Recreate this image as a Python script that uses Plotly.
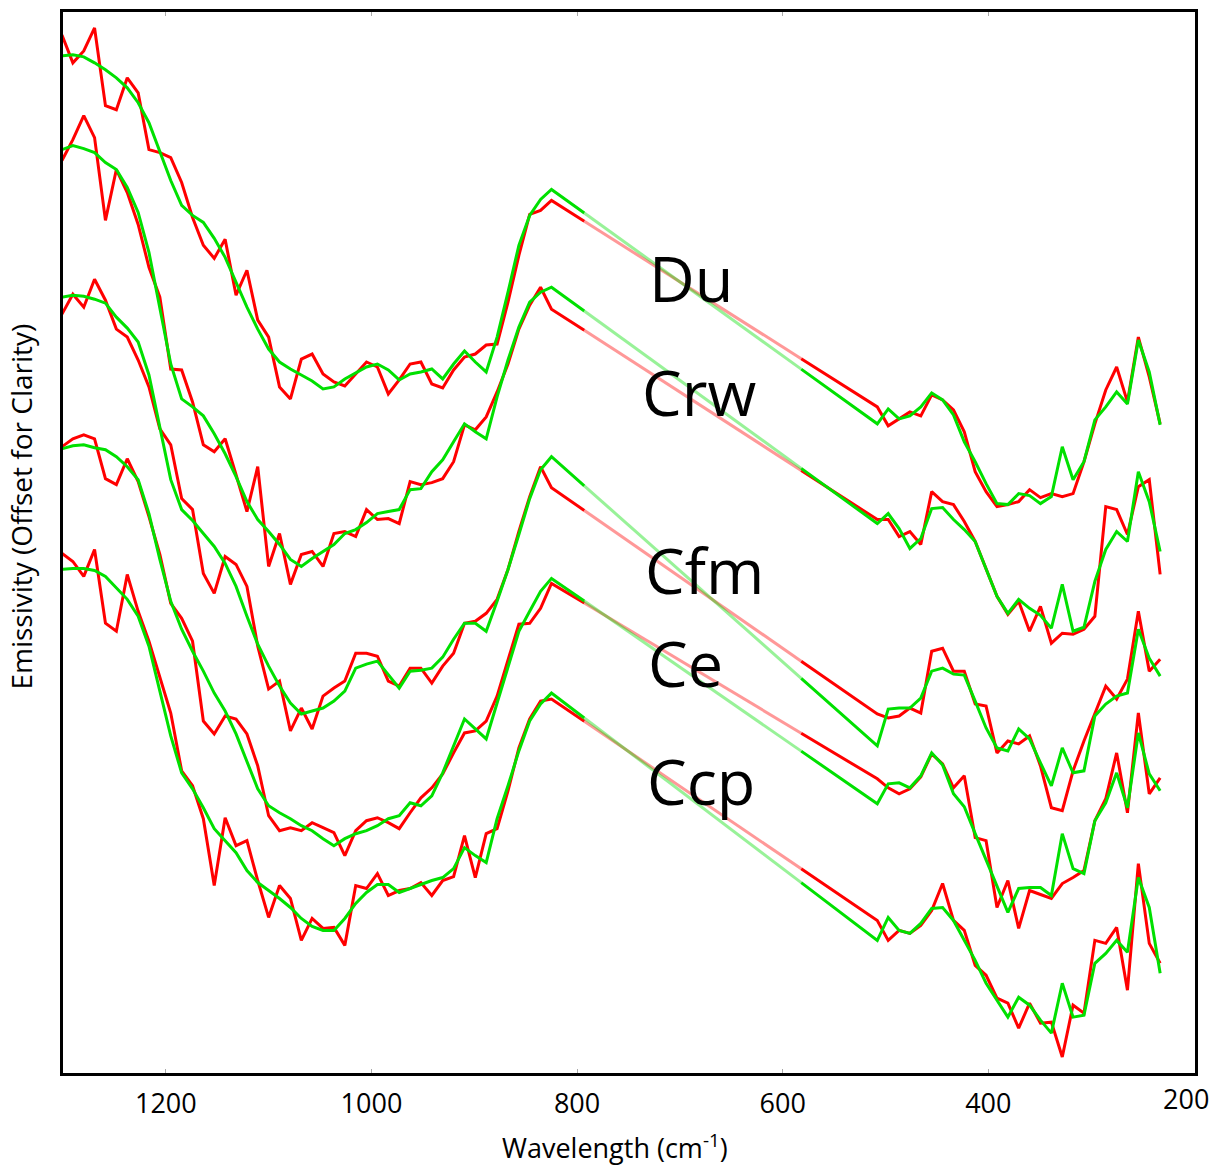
import numpy as np
import plotly.graph_objects as go

# Wavenumber channels (cm-1); the 825-508 cm-1 CO2 band is excluded from the data
WN_LEFT = [1301.0, 1290.4, 1279.8, 1269.3, 1258.7, 1248.1, 1237.5, 1226.9, 1216.4, 1205.8,
           1195.2, 1184.6, 1174.0, 1163.5, 1152.9, 1142.3, 1131.7, 1121.1, 1110.6, 1100.0,
           1089.4, 1078.8, 1068.2, 1057.7, 1047.1, 1036.5, 1025.9, 1015.3, 1004.8, 994.2,
           983.6, 973.0, 962.4, 951.9, 941.3, 930.7, 920.1, 909.5, 899.0, 888.4,
           877.8, 867.2, 856.6, 846.1, 835.5, 824.9]
WN_RIGHT = [508.0, 497.4, 486.8, 476.3, 465.7, 455.1, 444.5, 433.9, 423.4, 412.8,
            402.2, 391.6, 381.0, 370.5, 359.9, 349.3, 338.7, 328.1, 317.6, 307.0,
            296.4, 285.8, 275.2, 264.7, 254.1, 243.5, 232.9]

# Emissivity, offset for clarity (arbitrary units x1000)
DU_RED_L = [1068, 1040, 1052, 1075, 997, 993, 1025, 1010, 953, 950, 945, 920, 885, 857, 844, 863,
            807, 832, 782, 765, 715, 703, 743, 748, 728, 720, 716, 728, 740, 735, 708, 722, 738,
            740, 718, 714, 732, 745, 748, 757, 758, 800, 847, 888, 892, 902]
DU_RED_R = [695, 676, 683, 690, 686, 707, 702, 692, 670, 630, 610, 595, 597, 600, 612, 604, 608,
            605, 608, 640, 678, 712, 735, 700, 765, 725, 678]
DU_GRN_L = [1047, 1048, 1046, 1040, 1033, 1025, 1015, 1000, 980, 950, 922, 897, 887, 880, 864,
            845, 820, 795, 773, 753, 740, 733, 727, 721, 713, 715, 723, 729, 735, 738, 732, 722,
            728, 730, 733, 723, 738, 751, 740, 730, 765, 810, 857, 887, 903, 913]
DU_GRN_R = [678, 693, 683, 686, 695, 709, 702, 687, 660, 640, 618, 598, 597, 608, 606, 598, 605,
            655, 622, 640, 682, 695, 710, 698, 762, 730, 677]

CRW_RED_L = [942, 963, 987, 965, 882, 933, 910, 878, 835, 805, 733, 732, 700, 657, 650, 663, 627,
             590, 635, 535, 568, 517, 547, 550, 535, 568, 570, 565, 592, 582, 583, 578, 620, 617,
             619, 623, 640, 677, 672, 685, 710, 738, 773, 797, 815, 793]
CRW_RED_R = [582, 582, 565, 570, 557, 610, 600, 597, 580, 560, 533, 505, 487, 500, 470, 495, 458,
             468, 467, 472, 485, 595, 592, 567, 615, 622, 527]
CRW_GRN_L = [953, 957, 954, 950, 940, 933, 915, 890, 850, 795, 738, 703, 695, 686, 668, 648, 625,
             600, 582, 570, 557, 542, 535, 543, 550, 557, 568, 572, 579, 588, 590, 592, 612, 613,
             630, 642, 660, 678, 670, 663, 705, 742, 775, 800, 810, 815]
CRW_GRN_R = [578, 588, 573, 553, 563, 593, 594, 582, 572, 560, 533, 505, 488, 502, 493, 486, 473,
             517, 470, 474, 520, 552, 570, 560, 630, 600, 550]

CFM_RED_L = [788, 808, 795, 823, 802, 773, 765, 742, 715, 673, 657, 603, 592, 528, 508, 545, 537,
             515, 455, 412, 420, 370, 393, 372, 405, 413, 420, 448, 448, 445, 420, 415, 433, 433,
             418, 435, 448, 478, 480, 488, 502, 532, 570, 605, 635, 614]
CFM_RED_R = [387, 383, 385, 393, 388, 450, 453, 430, 430, 397, 395, 348, 360, 357, 365, 335, 293,
             290, 330, 360, 388, 415, 402, 422, 490, 430, 442]
CFM_GRN_L = [805, 807, 806, 803, 799, 785, 774, 760, 727, 673, 622, 592, 581, 568, 555, 538, 515,
             485, 457, 435, 415, 398, 387, 390, 393, 400, 410, 433, 437, 440, 426, 413, 430, 431,
             433, 444, 462, 478, 478, 470, 500, 532, 567, 603, 632, 645]
CFM_GRN_R = [355, 392, 393, 393, 403, 430, 433, 427, 426, 400, 373, 353, 350, 372, 362, 338, 315,
             353, 328, 330, 385, 397, 405, 408, 472, 443, 425]

CE_RED_L = [655, 663, 667, 663, 623, 617, 643, 620, 585, 547, 498, 483, 460, 380, 367, 385, 382,
            367, 335, 285, 270, 273, 270, 278, 273, 268, 245, 270, 280, 283, 278, 272, 288, 303,
            313, 327, 348, 368, 370, 380, 405, 440, 477, 478, 493, 518]
CE_RED_R = [322, 313, 307, 312, 324, 347, 337, 313, 325, 263, 260, 193, 220, 172, 210, 206, 202,
            217, 223, 230, 280, 302, 348, 288, 388, 307, 323]
CE_GRN_L = [653, 656, 657, 654, 652, 645, 635, 622, 588, 542, 500, 472, 450, 430, 408, 390, 367,
            340, 312, 295, 288, 282, 275, 270, 262, 255, 262, 267, 270, 275, 282, 285, 298, 295,
            305, 328, 355, 382, 372, 362, 398, 435, 470, 490, 510, 523]
CE_GRN_R = [297, 317, 318, 313, 325, 348, 336, 307, 294, 267, 240, 213, 188, 212, 213, 213, 205,
            267, 232, 227, 280, 298, 328, 293, 368, 327, 310]

CCP_RED_L = [548, 540, 525, 552, 478, 470, 527, 490, 460, 425, 388, 330, 315, 282, 215, 283, 255,
             260, 220, 183, 215, 202, 160, 182, 172, 173, 155, 215, 212, 227, 205, 210, 212, 218,
             205, 220, 224, 265, 223, 267, 272, 310, 353, 382, 400, 402]
CCP_RED_R = [180, 160, 170, 167, 175, 190, 217, 180, 170, 135, 125, 102, 97, 72, 97, 77, 78, 43,
             95, 87, 160, 157, 173, 110, 237, 157, 137]
CCP_GRN_L = [532, 533, 533, 531, 525, 513, 502, 485, 455, 410, 365, 328, 312, 293, 272, 260, 248,
             230, 218, 210, 202, 193, 182, 174, 170, 170, 182, 197, 208, 216, 216, 208, 212, 216,
             220, 223, 232, 253, 245, 238, 282, 315, 350, 380, 397, 408]
CCP_GRN_R = [160, 183, 170, 167, 177, 192, 193, 180, 160, 140, 117, 100, 83, 103, 95, 80, 67, 117,
             83, 85, 137, 147, 160, 148, 223, 193, 127]

SAMPLES = ["Du", "Crw", "Cfm", "Ce", "Ccp"]
RED = {"Du": (DU_RED_L, DU_RED_R), "Crw": (CRW_RED_L, CRW_RED_R), "Cfm": (CFM_RED_L, CFM_RED_R),
       "Ce": (CE_RED_L, CE_RED_R), "Ccp": (CCP_RED_L, CCP_RED_R)}
GRN = {"Du": (DU_GRN_L, DU_GRN_R), "Crw": (CRW_GRN_L, CRW_GRN_R), "Cfm": (CFM_GRN_L, CFM_GRN_R),
       "Ce": (CE_GRN_L, CE_GRN_R), "Ccp": (CCP_GRN_L, CCP_GRN_R)}
# label anchor positions (wavenumber, offset emissivity)
LABEL_POS = {"Du": (732, 825), "Crw": (739, 710), "Cfm": (736, 532), "Ce": (733, 439), "Ccp": (734, 320)}

X_TICKS = [1200, 1000, 800, 600, 400]
LAST_TICK = 200
FADE_HI, FADE_LO = 793.0, 582.0   # bridged (no-data) segment drawn faded

RED_C = "#ff0000"
GRN_C = "#00e000"

fig = go.Figure()


def add_series(left, right, color):
    wn = np.array(WN_LEFT + WN_RIGHT)
    y = np.array(left + right, dtype=float)
    y_hi = np.interp(FADE_HI, wn[::-1], y[::-1])
    y_lo = np.interp(FADE_LO, wn[::-1], y[::-1])
    m1 = wn > FADE_HI
    m3 = wn < FADE_LO
    x1 = list(wn[m1]) + [FADE_HI]
    y1 = list(y[m1]) + [y_hi]
    x3 = [FADE_LO] + list(wn[m3])
    y3 = [y_lo] + list(y[m3])
    for xs, ys, op in ((x1, y1, 1.0), ([FADE_HI, FADE_LO], [y_hi, y_lo], 0.4), (x3, y3, 1.0)):
        fig.add_trace(go.Scatter(x=xs, y=ys, mode="lines", opacity=op,
                                 line=dict(color=color, width=3), hoverinfo="skip",
                                 showlegend=False))


for s in SAMPLES:
    add_series(*RED[s], RED_C)
    add_series(*GRN[s], GRN_C)

for s in SAMPLES:
    x, y = LABEL_POS[s]
    fig.add_annotation(x=x, y=y, xref="x", yref="y", text=s, showarrow=False,
                       xanchor="left", yanchor="middle",
                       font=dict(family="Open Sans", size=63, color="black"))

# last tick label sits at the very edge of the frame
fig.add_annotation(x=LAST_TICK, y=-0.024, xref="x", yref="paper", text=str(LAST_TICK),
                   showarrow=False, xanchor="center", yanchor="middle", xshift=-8,
                   font=dict(family="Open Sans", size=27, color="black"))

fig.add_annotation(x=0.488, y=-0.069, xref="paper", yref="paper",
                   text="Wavelength (cm<sup>-1</sup>)", showarrow=False,
                   xanchor="center", yanchor="middle",
                   font=dict(family="Open Sans", size=27, color="black"))
fig.add_annotation(x=-0.037, y=0.534, xref="paper", yref="paper",
                   text="Emissivity (Offset for Clarity)", showarrow=False, textangle=-90,
                   xanchor="center", yanchor="middle",
                   font=dict(family="Open Sans", size=28, color="black"))

fig.update_layout(
    width=1217, height=1168,
    margin=dict(l=63, r=22, t=9, b=95),
    paper_bgcolor="white", plot_bgcolor="white",
    font=dict(family="Open Sans", color="black"),
    xaxis=dict(range=[1300, 199], tickvals=X_TICKS, ticks="inside", ticklen=4,
               tickcolor="#aaaaaa", tickwidth=1, showgrid=False, zeroline=False,
               showline=True, linecolor="black", linewidth=3, mirror="ticks",
               tickfont=dict(family="Open Sans", size=27, color="black"),
               ticklabelstandoff=5),
    yaxis=dict(range=[27, 1091], showticklabels=False, ticks="", showgrid=False,
               zeroline=False, showline=True, linecolor="black", linewidth=3, mirror=True),
)

fig.write_html("out.html")
